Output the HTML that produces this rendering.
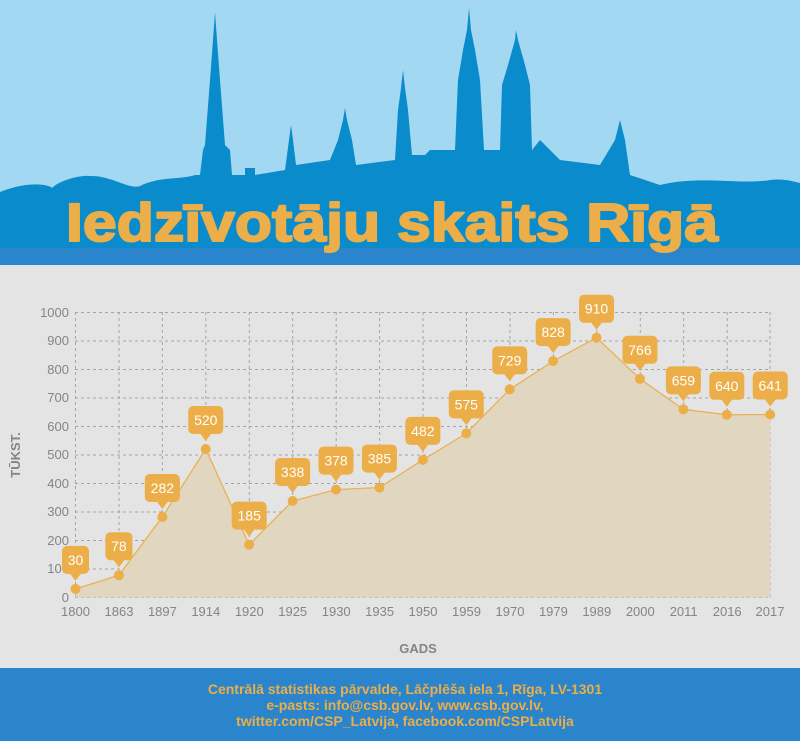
<!DOCTYPE html>
<html><head><meta charset="utf-8"><style>
body{margin:0;width:800px;height:741px;overflow:hidden;background:#e3e4e3;font-family:"Liberation Sans",sans-serif}
</style></head><body>
<svg width="800" height="741" xmlns="http://www.w3.org/2000/svg" style="position:absolute;left:0;top:0">
<rect x="0" y="0" width="800" height="265" fill="#a3d8f2"/>
<path fill="#0a8bcc" d="M0,192 C30,180 50,185 52,188 C60,180 80,175 90,176 C110,175 130,190 140,186 C160,176 180,180 195,175 L200,175 L203,150 L205,145 L210,80 L213,40 L215,12 L217,40 L220,80 L225,145 L230,150 L232,175 L245,175 L245,168 L255,168 L255,175 L285,170 L289,140 L291,125 L293,140 L296,165 L330,160 L338,140 L343,120 L345,108 L347,120 L352,140 L356,165 L395,160 L398,110 L401,88 L403,70 L405,88 L408,110 L412,155 L425,155 L430,150 L455,150 L458,80 L463,50 L467,30 L469,8 L471,30 L475,50 L480,80 L484,150 L500,150 L502,85 L508,65 L515,40 L516,30 L518,40 L525,65 L530,85 L532,150 L540,140 L560,160 L600,165 L615,140 L620,120 L625,140 L630,175 L660,185 C700,175 740,185 770,180 C785,178 795,182 800,183 L800,265 L0,265 Z"/>
<rect x="0" y="248" width="800" height="17" fill="#2a85cc"/>
<text x="66" y="241" textLength="652" lengthAdjust="spacingAndGlyphs" font-family="Liberation Sans, sans-serif" font-weight="bold" font-size="54" fill="#ecae48" stroke="#ecae48" stroke-width="2" stroke-linejoin="round">Iedzīvotāju skaits Rīgā</text>
<g stroke="#a5a5a5" stroke-dasharray="3,3" stroke-width="1" fill="none">
<line x1="75" y1="312.5" x2="770" y2="312.5"/><line x1="75" y1="341" x2="770" y2="341"/><line x1="75" y1="369.5" x2="770" y2="369.5"/><line x1="75" y1="398" x2="770" y2="398"/><line x1="75" y1="426.5" x2="770" y2="426.5"/><line x1="75" y1="455" x2="770" y2="455"/><line x1="75" y1="483.5" x2="770" y2="483.5"/><line x1="75" y1="512" x2="770" y2="512"/><line x1="75" y1="540.5" x2="770" y2="540.5"/><line x1="75" y1="569" x2="770" y2="569"/><line x1="75" y1="597.5" x2="770" y2="597.5"/>
<line x1="75.5" y1="312" x2="75.5" y2="598"/><line x1="119" y1="312" x2="119" y2="598"/><line x1="162.4" y1="312" x2="162.4" y2="598"/><line x1="205.8" y1="312" x2="205.8" y2="598"/><line x1="249.3" y1="312" x2="249.3" y2="598"/><line x1="292.7" y1="312" x2="292.7" y2="598"/><line x1="336.2" y1="312" x2="336.2" y2="598"/><line x1="379.6" y1="312" x2="379.6" y2="598"/><line x1="423" y1="312" x2="423" y2="598"/><line x1="466.5" y1="312" x2="466.5" y2="598"/><line x1="510" y1="312" x2="510" y2="598"/><line x1="553.4" y1="312" x2="553.4" y2="598"/><line x1="596.8" y1="312" x2="596.8" y2="598"/><line x1="640.3" y1="312" x2="640.3" y2="598"/><line x1="683.7" y1="312" x2="683.7" y2="598"/><line x1="727.2" y1="312" x2="727.2" y2="598"/><line x1="770" y1="312" x2="770" y2="598"/>
</g>
<g font-size="13" fill="#858585" text-anchor="end">
<text x="69" y="317">1000</text><text x="69" y="345">900</text><text x="69" y="374">800</text><text x="69" y="402">700</text><text x="69" y="431">600</text><text x="69" y="459">500</text><text x="69" y="488">400</text><text x="69" y="516">300</text><text x="69" y="545">200</text><text x="69" y="573">100</text><text x="69" y="602">0</text>
</g>
<g font-size="13" fill="#858585" text-anchor="middle">
<text x="75.5" y="616">1800</text><text x="119" y="616">1863</text><text x="162.4" y="616">1897</text><text x="205.8" y="616">1914</text><text x="249.3" y="616">1920</text><text x="292.7" y="616">1925</text><text x="336.2" y="616">1930</text><text x="379.6" y="616">1935</text><text x="423" y="616">1950</text><text x="466.5" y="616">1959</text><text x="510" y="616">1970</text><text x="553.4" y="616">1979</text><text x="596.8" y="616">1989</text><text x="640.3" y="616">2000</text><text x="683.7" y="616">2011</text><text x="727.2" y="616">2016</text><text x="770" y="616">2017</text>
</g>
<text x="418" y="653" text-anchor="middle" font-size="13" font-weight="bold" fill="#858585">GADS</text>
<text transform="translate(20,455) rotate(-90)" text-anchor="middle" font-size="13" font-weight="bold" fill="#858585">TŪKST.</text>
<g id="chart"></g>
<rect x="0" y="668" width="800" height="73" fill="#2a85cc"/>
<g font-size="14" font-weight="bold" fill="#ecae48" text-anchor="middle">
<text x="405" y="694">Centrālā statistikas pārvalde, Lāčplēša iela 1, Rīga, LV-1301</text>
<text x="405" y="710">e-pasts: info@csb.gov.lv, www.csb.gov.lv,</text>
<text x="405" y="726">twitter.com/CSP_Latvija, facebook.com/CSPLatvija</text>
</g>
</svg>
<script>
var v=[30,78,282,520,185,338,378,385,482,575,729,828,910,766,659,640,641];
var g=document.getElementById('chart'),ns='http://www.w3.org/2000/svg',pts=[];
for(var i=0;i<17;i++){var x=75.5+i*43.42,y=597.5-v[i]*0.2855;pts.push([x,y]);}
var s='';pts.forEach(function(p){s+=p[0]+','+p[1]+' ';});
function el(t,a,txt){var e=document.createElementNS(ns,t);for(var k in a)e.setAttribute(k,a[k]);if(txt)e.textContent=txt;g.appendChild(e);return e;}
el('polygon',{points:'75.5,597.5 '+s+'770,597.5',fill:'#e1d6bf'});
el('polyline',{points:s,fill:'none',stroke:'#ecae48','stroke-width':1.2});
pts.forEach(function(p,i){
 el('circle',{cx:p[0],cy:p[1],r:5,fill:'#ecae48'});
 var w=String(v[i]).length>2?35:27,top=p[1]-43,bx=p[0]-w/2;
 el('rect',{x:bx,y:top,width:w,height:28,rx:5,fill:'#ecae48'});
 el('path',{d:'M'+(p[0]-6)+','+(top+27)+' L'+p[0]+','+(top+35)+' L'+(p[0]+6)+','+(top+27)+'Z',fill:'#ecae48'});
 el('text',{x:p[0],y:top+19,'text-anchor':'middle','font-size':14,fill:'#fff'},String(v[i]));
});
</script>
</body></html>
